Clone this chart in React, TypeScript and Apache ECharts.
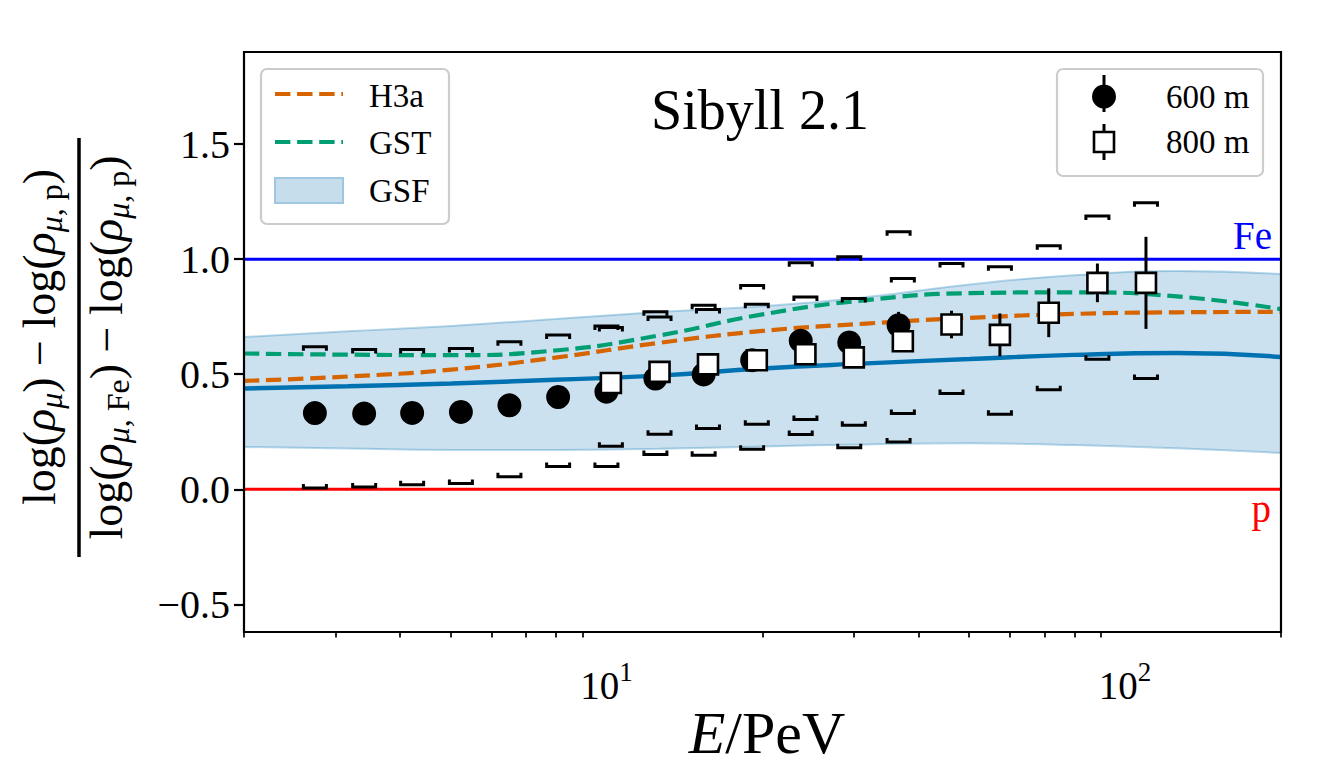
import React, { useEffect, useRef } from "react";
import * as echarts from "echarts";

const FONT = "'Liberation Serif', 'DejaVu Serif', serif";

// axis ranges and ticks
const xMin = 2;
const xMax = 200;
const yMin = -0.62;
const yMax = 1.9;
const yTicks = [-0.5, 0, 0.5, 1, 1.5];
const xMajorTicks = [10, 100];
const xMinorTicks = [2, 3, 4, 5, 6, 7, 8, 9, 20, 30, 40, 50, 60, 70, 80, 90, 200];

// 600 m data (filled circles)
const energy600 = [2.74, 3.41, 4.22, 5.24, 6.5, 8.07, 10.0, 12.43, 15.4, 19.1, 23.7, 29.4, 36.6];
const ratio600 = [0.331, 0.329, 0.332, 0.336, 0.365, 0.401, 0.424, 0.481, 0.499, 0.561, 0.645, 0.638, 0.713];
const err600 = [0.01, 0.01, 0.01, 0.01, 0.012, 0.015, 0.02, 0.02, 0.025, 0.03, 0.035, 0.045, 0.058];
const sysHi600 = [0.619, 0.607, 0.607, 0.612, 0.641, 0.67, 0.709, 0.771, 0.8, 0.886, 0.984, 1.01, 1.119];
const sysLo600 = [0.006, 0.01, 0.02, 0.025, 0.054, 0.099, 0.099, 0.151, 0.148, 0.174, 0.238, 0.18, 0.206];

// 800 m data (open squares)
const energy800 = [10.2, 12.66, 15.7, 19.5, 24.2, 30.0, 37.3, 46.3, 57.4, 71.3, 88.5, 109.8];
const ratio800 = [0.462, 0.51, 0.543, 0.561, 0.587, 0.573, 0.643, 0.716, 0.671, 0.767, 0.897, 0.897];
const err800 = [0.02, 0.02, 0.02, 0.02, 0.025, 0.025, 0.03, 0.06, 0.093, 0.106, 0.084, 0.2];
const sysHi800 = [0.703, 0.749, 0.781, 0.804, 0.836, 0.829, 0.916, 0.981, 0.967, 1.058, 1.187, 1.245];
const sysLo800 = [0.187, 0.239, 0.264, 0.283, 0.303, 0.278, 0.329, 0.416, 0.326, 0.433, 0.565, 0.481];

// model curves (read at energies spaced 0.2 decades)
const curveE = [2, 3.17, 5.02, 7.96, 12.6, 20, 31.7, 50.2, 79.6, 126, 200];
const h3a = [0.471, 0.49, 0.52, 0.572, 0.636, 0.688, 0.72, 0.745, 0.762, 0.769, 0.771];
const gst = [0.59, 0.585, 0.583, 0.603, 0.668, 0.76, 0.822, 0.852, 0.856, 0.838, 0.783];
const gsfMid = [0.438, 0.448, 0.46, 0.476, 0.494, 0.525, 0.547, 0.566, 0.584, 0.592, 0.575];
const gsfHi = [0.662, 0.687, 0.71, 0.74, 0.77, 0.795, 0.835, 0.89, 0.93, 0.948, 0.935];
const gsfLo = [0.184, 0.177, 0.171, 0.171, 0.176, 0.186, 0.195, 0.2, 0.192, 0.178, 0.158];

const L = (v: number) => Math.log10(v);

const BLUE = "#0072b2";
const ORANGE = "#d66400";
const TEAL = "#009e73";

function bracketRender(params: any, api: any) {
  const x = api.value(0);
  const lo = api.value(1);
  const hi = api.value(2);
  const pHi = api.coord([x, hi]);
  const pLo = api.coord([x, lo]);
  const w = 11.5;
  const t = 4;
  const st = { stroke: "#000", lineWidth: 3, fill: "none" };
  return {
    type: "group",
    children: [
      {
        type: "polyline",
        shape: { points: [[pHi[0] - w, pHi[1] + t], [pHi[0] - w, pHi[1]], [pHi[0] + w, pHi[1]], [pHi[0] + w, pHi[1] + t]] },
        style: st,
      },
      {
        type: "polyline",
        shape: { points: [[pLo[0] - w, pLo[1] - t], [pLo[0] - w, pLo[1]], [pLo[0] + w, pLo[1]], [pLo[0] + w, pLo[1] - t]] },
        style: st,
      },
    ],
  };
}

function errRender(params: any, api: any) {
  const x = api.value(0);
  const lo = api.value(1);
  const hi = api.value(2);
  const a = api.coord([x, hi]);
  const b = api.coord([x, lo]);
  return {
    type: "line",
    shape: { x1: a[0], y1: a[1], x2: b[0], y2: b[1] },
    style: { stroke: "#000", lineWidth: 3 },
  };
}

function txt(text: string, x: number, y: number, size: number, align: string, extra: any = {}) {
  return {
    type: "text",
    x,
    y,
    z: 100,
    silent: true,
    style: {
      text,
      fontSize: size,
      fontFamily: FONT,
      fill: extra.fill || "#000",
      align,
      textAlign: align,
      verticalAlign: "middle",
      textVerticalAlign: "middle",
      ...extra,
    },
  };
}

const fracRich = {
  n: { fontSize: 46, fontFamily: FONT, lineHeight: 64, fill: "#000" },
  g: { fontSize: 46, fontFamily: FONT, fontStyle: "italic", lineHeight: 64, fill: "#000" },
  si: { fontSize: 32, fontFamily: FONT, fontStyle: "italic", lineHeight: 64, padding: [24, 0, 0, 0], fill: "#000" },
  s: { fontSize: 32, fontFamily: FONT, lineHeight: 64, padding: [24, 0, 0, 0], fill: "#000" },
};

export default function App() {
  const ref = useRef<HTMLDivElement>(null);

  useEffect(() => {
    if (!ref.current) return;
    const chart = echarts.init(ref.current, null, { renderer: "svg" });

    const lineBase = { type: "line", showSymbol: false, smooth: 0.5, silent: true };
    const edge = { color: "rgba(0,114,178,0.28)", width: 2 };

    const option: any = {
      animation: false,
      backgroundColor: "#fff",
      textStyle: { fontFamily: FONT },
      grid: {
        left: 244,
        right: 39,
        top: 52,
        bottom: 133,
        show: true,
        z: 10,
        borderColor: "#000",
        borderWidth: 2.2,
        backgroundColor: "transparent",
      },
      xAxis: [
        {
          type: "value",
          position: "bottom",
          min: L(xMin),
          max: L(xMax),
          axisLine: { show: false },
          splitLine: { show: false },
          axisTick: { show: true, customValues: xMajorTicks.map(L), length: 10, lineStyle: { color: "#000", width: 2.2 } },
          axisLabel: {
            customValues: xMajorTicks.map(L),
            formatter: (v: number) => `{b|10}{s|${Math.round(v)}}`,
            margin: 26,
            rich: {
              b: { fontSize: 39, fontFamily: FONT, color: "#000" },
              s: { fontSize: 27, fontFamily: FONT, color: "#000", padding: [0, 0, 28, 0] },
            },
          },
        },
        {
          type: "value",
          position: "bottom",
          min: L(xMin),
          max: L(xMax),
          axisLine: { show: false },
          splitLine: { show: false },
          axisTick: { show: true, customValues: xMinorTicks.map(L), length: 5.6, lineStyle: { color: "#000", width: 1.7 } },
          axisLabel: { show: false },
        },
      ],
      yAxis: {
        type: "value",
        min: yMin,
        max: yMax,
        axisLine: { show: false },
        splitLine: { show: false },
        axisTick: { show: true, customValues: yTicks, length: 10, lineStyle: { color: "#000", width: 2.2 } },
        axisLabel: {
          customValues: yTicks,
          formatter: (v: number) => (v < 0 ? "\u2212" : "") + Math.abs(v).toFixed(1),
          fontSize: 40,
          fontFamily: FONT,
          color: "#000",
          margin: 14,
        },
      },
      series: [
        // GSF band: upper edge filled down to the axis, then the region below the lower edge masked with white
        {
          ...lineBase,
          name: "GSF",
          z: 1,
          data: curveE.map((e, i) => [L(e), gsfHi[i]]),
          lineStyle: edge,
          areaStyle: { color: "#cce1ef", opacity: 1, origin: "start" },
        },
        {
          ...lineBase,
          name: "GSF lower",
          z: 1,
          data: curveE.map((e, i) => [L(e), gsfLo[i]]),
          lineStyle: edge,
          areaStyle: { color: "#ffffff", opacity: 1, origin: "start" },
        },
        {
          ...lineBase,
          name: "GSF mid",
          z: 2,
          data: curveE.map((e, i) => [L(e), gsfMid[i]]),
          lineStyle: { color: BLUE, width: 4.4 },
        },
        {
          ...lineBase,
          name: "H3a",
          z: 2,
          data: curveE.map((e, i) => [L(e), h3a[i]]),
          lineStyle: { color: ORANGE, width: 4.2, type: [15.4, 6.7] },
        },
        {
          ...lineBase,
          name: "GST",
          z: 2,
          data: curveE.map((e, i) => [L(e), gst[i]]),
          lineStyle: { color: TEAL, width: 4.2, type: [15.4, 6.7] },
        },
        {
          type: "line",
          name: "Fe",
          z: 2,
          showSymbol: false,
          silent: true,
          data: [[L(xMin), 1], [L(xMax), 1]],
          lineStyle: { color: "#0000ff", width: 3 },
        },
        {
          type: "line",
          name: "p",
          z: 2,
          showSymbol: false,
          silent: true,
          data: [[L(xMin), 0], [L(xMax), 0]],
          lineStyle: { color: "#ff0000", width: 3 },
        },
        {
          type: "custom",
          name: "sys600",
          z: 3,
          silent: true,
          renderItem: bracketRender,
          encode: { x: 0, y: [1, 2] },
          data: energy600.map((e, i) => [L(e), sysLo600[i], sysHi600[i]]),
        },
        {
          type: "custom",
          name: "sys800",
          z: 3,
          silent: true,
          renderItem: bracketRender,
          encode: { x: 0, y: [1, 2] },
          data: energy800.map((e, i) => [L(e), sysLo800[i], sysHi800[i]]),
        },
        {
          type: "custom",
          name: "err600",
          z: 4,
          silent: true,
          renderItem: errRender,
          encode: { x: 0, y: [1, 2] },
          data: energy600.map((e, i) => [L(e), ratio600[i] - err600[i], ratio600[i] + err600[i]]),
        },
        {
          type: "scatter",
          name: "600 m",
          z: 5,
          silent: true,
          symbol: "circle",
          symbolSize: 24,
          itemStyle: { color: "#000", opacity: 1 },
          data: energy600.map((e, i) => [L(e), ratio600[i]]),
        },
        {
          type: "custom",
          name: "err800",
          z: 6,
          silent: true,
          renderItem: errRender,
          encode: { x: 0, y: [1, 2] },
          data: energy800.map((e, i) => [L(e), ratio800[i] - err800[i], ratio800[i] + err800[i]]),
        },
        {
          type: "scatter",
          name: "800 m",
          z: 7,
          silent: true,
          symbol: "rect",
          symbolSize: 20,
          itemStyle: { color: "#fff", borderColor: "#000", borderWidth: 2.6, opacity: 1 },
          data: energy800.map((e, i) => [L(e), ratio800[i]]),
        },
      ],
      graphic: {
        elements: [
          // title
          txt("Sibyll 2.1", 760, 110, 56, "center"),
          // Fe / p labels
          txt("Fe", 1272, 235, 39, "right", { fill: "#0000ff" }),
          txt("p", 1271, 508, 39, "right", { fill: "#ff0000" }),
          // x axis title
          {
            type: "text",
            x: 767,
            y: 733,
            z: 100,
            silent: true,
            style: {
              text: "{i|E}{n|/PeV}",
              align: "center",
              textAlign: "center",
              verticalAlign: "middle",
              textVerticalAlign: "middle",
              rich: {
                i: { fontSize: 60, fontFamily: FONT, fontStyle: "italic", fill: "#000" },
                n: { fontSize: 60, fontFamily: FONT, fill: "#000" },
              },
            },
          },
          // y axis title: fraction
          {
            type: "text",
            x: 39,
            y: 337,
            rotation: Math.PI / 2,
            z: 100,
            silent: true,
            style: {
              text: "{n|log(}{g|\u03c1}{si|\u03bc}{n|) \u2212 log(}{g|\u03c1}{si|\u03bc}{s|, p}{n|)}",
              align: "center",
              textAlign: "center",
              verticalAlign: "middle",
              textVerticalAlign: "middle",
              rich: fracRich,
            },
          },
          {
            type: "line",
            z: 100,
            silent: true,
            shape: { x1: 79, y1: 138, x2: 79, y2: 557 },
            style: { stroke: "#000", lineWidth: 3.5 },
          },
          {
            type: "text",
            x: 106,
            y: 347.5,
            rotation: Math.PI / 2,
            z: 100,
            silent: true,
            style: {
              text: "{n|log(}{g|\u03c1}{si|\u03bc}{s|, Fe}{n|) \u2212 log(}{g|\u03c1}{si|\u03bc}{s|, p}{n|)}",
              align: "center",
              textAlign: "center",
              verticalAlign: "middle",
              textVerticalAlign: "middle",
              rich: fracRich,
            },
          },
          // left legend
          {
            type: "rect",
            z: 90,
            silent: true,
            shape: { x: 261, y: 69, width: 188, height: 155, r: 6 },
            style: { fill: "rgba(255,255,255,0.85)", stroke: "#cccccc", lineWidth: 2.2 },
          },
          {
            type: "line",
            z: 100,
            silent: true,
            shape: { x1: 275, y1: 94, x2: 343, y2: 94 },
            style: { stroke: ORANGE, lineWidth: 4.2, lineDash: [15.4, 6.7] },
          },
          txt("H3a", 369, 96, 33, "left"),
          {
            type: "line",
            z: 100,
            silent: true,
            shape: { x1: 275, y1: 142, x2: 343, y2: 142 },
            style: { stroke: TEAL, lineWidth: 4.2, lineDash: [15.4, 6.7] },
          },
          txt("GST", 369, 142.5, 33, "left"),
          {
            type: "rect",
            z: 100,
            silent: true,
            shape: { x: 275, y: 178, width: 68, height: 25 },
            style: { fill: "#c6ddec", stroke: "#9ec8e2", lineWidth: 2 },
          },
          txt("GSF", 369, 191, 33, "left"),
          // right legend
          {
            type: "rect",
            z: 90,
            silent: true,
            shape: { x: 1057, y: 69, width: 206, height: 107, r: 6 },
            style: { fill: "rgba(255,255,255,0.85)", stroke: "#cccccc", lineWidth: 2.2 },
          },
          {
            type: "line",
            z: 100,
            silent: true,
            shape: { x1: 1104, y1: 75, x2: 1104, y2: 112 },
            style: { stroke: "#000", lineWidth: 3 },
          },
          {
            type: "circle",
            z: 101,
            silent: true,
            shape: { cx: 1104, cy: 96.5, r: 12 },
            style: { fill: "#000" },
          },
          txt("600 m", 1166, 97, 33, "left"),
          {
            type: "line",
            z: 100,
            silent: true,
            shape: { x1: 1104, y1: 124, x2: 1104, y2: 160 },
            style: { stroke: "#000", lineWidth: 3 },
          },
          {
            type: "rect",
            z: 101,
            silent: true,
            shape: { x: 1094, y: 132, width: 20, height: 20 },
            style: { fill: "#fff", stroke: "#000", lineWidth: 2.6 },
          },
          txt("800 m", 1166, 142, 33, "left"),
        ],
      },
    };

    chart.setOption(option);
    return () => chart.dispose();
  }, []);

  return (
    <div
      ref={ref}
      style={{ position: "absolute", left: 0, top: 0, width: 1320, height: 765, background: "#fff" }}
    />
  );
}
